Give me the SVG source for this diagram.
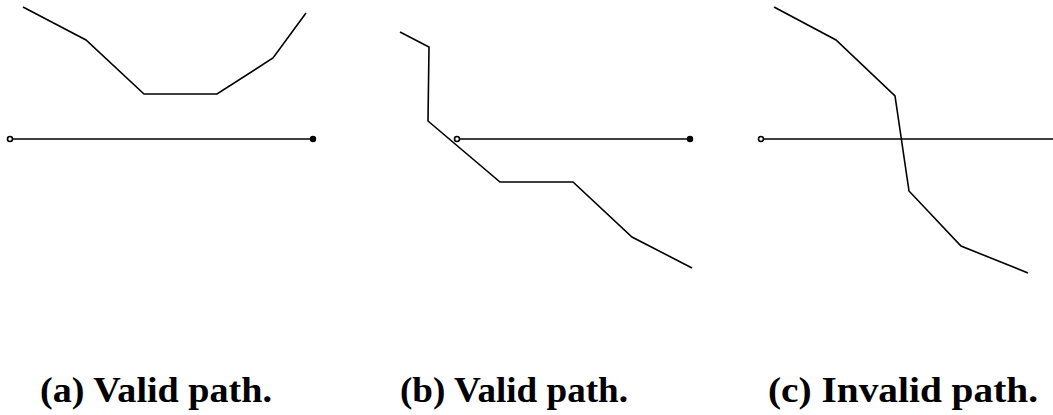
<svg xmlns="http://www.w3.org/2000/svg" width="1053" height="415" viewBox="0 0 1053 415">
<style>
.p{fill:none;stroke:#000;stroke-width:1.6;stroke-linejoin:miter}
.s{fill:none;stroke:#000;stroke-width:1.6}
.o{fill:#fff;stroke:#000;stroke-width:1.6}
.f{fill:#000}
.t{font-family:"Liberation Serif",serif;font-weight:bold;font-size:35px;fill:#000}
</style>
<rect width="1053" height="415" fill="#fff"/>
<g id="a">
<polyline class="p" points="23,7 86,40 144,94 217,94 273,58 306,13"/>
<line class="s" x1="10" y1="139" x2="313" y2="139"/>
<circle class="o" cx="10" cy="139" r="2.5"/>
<circle class="f" cx="313" cy="139" r="3.2"/>
<text class="t" x="40" y="402" textLength="232" lengthAdjust="spacingAndGlyphs">(a) Valid path.</text>
</g>
<g id="b">
<polyline class="p" points="400,32 429,47 428,121 500,182 573,182 632,237 692,268"/>
<line class="s" x1="457" y1="139" x2="690" y2="139"/>
<circle class="o" cx="457" cy="139" r="2.5"/>
<circle class="f" cx="690" cy="139" r="3.2"/>
<text class="t" x="400" y="402" textLength="228" lengthAdjust="spacingAndGlyphs">(b) Valid path.</text>
</g>
<g id="c">
<polyline class="p" points="774,7 836,40 895,96 909,191 961,246 1028,273"/>
<line class="s" x1="761" y1="139" x2="1053" y2="139"/>
<circle class="o" cx="761" cy="139" r="2.5"/>
<text class="t" x="768" y="402" textLength="270" lengthAdjust="spacingAndGlyphs">(c) Invalid path.</text>
</g>
</svg>
